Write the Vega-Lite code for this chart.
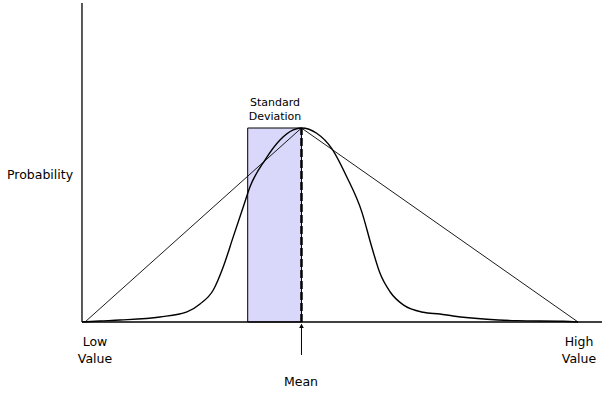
{
  "$schema": "https://vega.github.io/schema/vega-lite/v6.json",
  "width": 607,
  "height": 397,
  "padding": 0,
  "autosize": {"type": "none"},
  "background": "white",
  "config": {"view": {"stroke": null}},
  "datasets": {
    "curve": [
      {"x": -0.61, "p": 0}, {"x": 3.04, "p": 0.005}, {"x": 7.1, "p": 0.01}, {"x": 15.21, "p": 0.026},
      {"x": 20.69, "p": 0.052}, {"x": 23.33, "p": 0.093}, {"x": 26.02, "p": 0.165}, {"x": 28.05, "p": 0.285},
      {"x": 30.08, "p": 0.44}, {"x": 32.11, "p": 0.594}, {"x": 33.47, "p": 0.697}, {"x": 36.51, "p": 0.835},
      {"x": 39.55, "p": 0.938}, {"x": 42.25, "p": 0.99}, {"x": 43.91, "p": 1.0}, {"x": 46.99, "p": 0.973},
      {"x": 50.03, "p": 0.895}, {"x": 53.08, "p": 0.749}, {"x": 56.13, "p": 0.569}, {"x": 58.15, "p": 0.388},
      {"x": 59.84, "p": 0.251}, {"x": 61.87, "p": 0.156}, {"x": 64.56, "p": 0.088}, {"x": 68.62, "p": 0.05},
      {"x": 72.01, "p": 0.041}, {"x": 74.65, "p": 0.031}, {"x": 81.54, "p": 0.014}, {"x": 87.63, "p": 0.007},
      {"x": 96.96, "p": 0.004}, {"x": 100, "p": 0}
    ],
    "triangle": [
      {"x": 0, "p": 0}, {"x": 43.91, "p": 1.0}, {"x": 100, "p": 0}
    ],
    "sd": [{"x": 33.0, "x2": 43.91, "p": 0, "p2": 1.0}],
    "mean": [{"x": 43.91, "p": 0, "p2": 1.0}],
    "axes": [
      {"x": -0.61, "x2": -0.61, "p": 0, "p2": 1.644},
      {"x": -0.61, "x2": 104.87, "p": 0, "p2": 0}
    ],
    "arrow": [{"x": 43.91, "p": -0.17, "p2": -0.012}],
    "arrowhead": [{"x": 43.91, "p": -0.02}],
    "labels": [
      {"x": -9.13, "p": 0.758, "t": "Probability"},
      {"x": 2.03, "p": -0.103, "t": "Low"},
      {"x": 2.03, "p": -0.191, "t": "Value"},
      {"x": 100.2, "p": -0.103, "t": "High"},
      {"x": 100.2, "p": -0.191, "t": "Value"},
      {"x": 43.8, "p": -0.309, "t": "Mean"}
    ],
    "sdlabel": [
      {"x": 38.54, "p": 1.129, "t": "Standard"},
      {"x": 38.54, "p": 1.057, "t": "Deviation"}
    ]
  },
  "layer": [
    {
      "data": {"name": "sd"},
      "mark": {"type": "rect", "fill": "#d9d7fa", "stroke": "black", "strokeWidth": 1},
      "encoding": {
        "x": {"field": "x", "type": "quantitative", "scale": {"domain": [-17.24, 105.88], "nice": false, "zero": false}, "axis": null},
        "x2": {"field": "x2"},
        "y": {"field": "p", "type": "quantitative", "scale": {"domain": [-0.3866, 1.6598], "nice": false, "zero": false}, "axis": null},
        "y2": {"field": "p2"}
      }
    },
    {
      "data": {"name": "triangle"},
      "mark": {"type": "line", "color": "black", "strokeWidth": 0.9},
      "encoding": {
        "x": {"field": "x", "type": "quantitative", "scale": {"domain": [-17.24, 105.88], "nice": false, "zero": false}, "axis": null},
        "y": {"field": "p", "type": "quantitative", "scale": {"domain": [-0.3866, 1.6598], "nice": false, "zero": false}, "axis": null},
        "order": {"field": "x"}
      }
    },
    {
      "data": {"name": "curve"},
      "mark": {"type": "line", "color": "black", "strokeWidth": 1.4, "interpolate": "monotone"},
      "encoding": {
        "x": {"field": "x", "type": "quantitative", "scale": {"domain": [-17.24, 105.88], "nice": false, "zero": false}, "axis": null},
        "y": {"field": "p", "type": "quantitative", "scale": {"domain": [-0.3866, 1.6598], "nice": false, "zero": false}, "axis": null}
      }
    },
    {
      "data": {"name": "mean"},
      "mark": {"type": "rule", "color": "black", "strokeWidth": 2.5, "strokeDash": [8, 3]},
      "encoding": {
        "x": {"field": "x", "type": "quantitative", "scale": {"domain": [-17.24, 105.88], "nice": false, "zero": false}, "axis": null},
        "y": {"field": "p", "type": "quantitative", "scale": {"domain": [-0.3866, 1.6598], "nice": false, "zero": false}, "axis": null},
        "y2": {"field": "p2"}
      }
    },
    {
      "data": {"name": "axes"},
      "mark": {"type": "rule", "color": "black", "strokeWidth": 1.3},
      "encoding": {
        "x": {"field": "x", "type": "quantitative", "scale": {"domain": [-17.24, 105.88], "nice": false, "zero": false}, "axis": null},
        "x2": {"field": "x2"},
        "y": {"field": "p", "type": "quantitative", "scale": {"domain": [-0.3866, 1.6598], "nice": false, "zero": false}, "axis": null},
        "y2": {"field": "p2"}
      }
    },
    {
      "data": {"name": "arrow"},
      "mark": {"type": "rule", "color": "black", "strokeWidth": 1},
      "encoding": {
        "x": {"field": "x", "type": "quantitative", "scale": {"domain": [-17.24, 105.88], "nice": false, "zero": false}, "axis": null},
        "y": {"field": "p", "type": "quantitative", "scale": {"domain": [-0.3866, 1.6598], "nice": false, "zero": false}, "axis": null},
        "y2": {"field": "p2"}
      }
    },
    {
      "data": {"name": "arrowhead"},
      "mark": {"type": "point", "shape": "triangle-up", "filled": true, "color": "black", "size": 22, "opacity": 1},
      "encoding": {
        "x": {"field": "x", "type": "quantitative", "scale": {"domain": [-17.24, 105.88], "nice": false, "zero": false}, "axis": null},
        "y": {"field": "p", "type": "quantitative", "scale": {"domain": [-0.3866, 1.6598], "nice": false, "zero": false}, "axis": null}
      }
    },
    {
      "data": {"name": "labels"},
      "mark": {"type": "text", "font": "DejaVu Sans", "fontSize": 12.5, "color": "black", "align": "center", "baseline": "middle"},
      "encoding": {
        "x": {"field": "x", "type": "quantitative", "scale": {"domain": [-17.24, 105.88], "nice": false, "zero": false}, "axis": null},
        "y": {"field": "p", "type": "quantitative", "scale": {"domain": [-0.3866, 1.6598], "nice": false, "zero": false}, "axis": null},
        "text": {"field": "t"}
      }
    },
    {
      "data": {"name": "sdlabel"},
      "mark": {"type": "text", "font": "DejaVu Sans", "fontSize": 11, "color": "black", "align": "center", "baseline": "middle"},
      "encoding": {
        "x": {"field": "x", "type": "quantitative", "scale": {"domain": [-17.24, 105.88], "nice": false, "zero": false}, "axis": null},
        "y": {"field": "p", "type": "quantitative", "scale": {"domain": [-0.3866, 1.6598], "nice": false, "zero": false}, "axis": null},
        "text": {"field": "t"}
      }
    }
  ]
}
